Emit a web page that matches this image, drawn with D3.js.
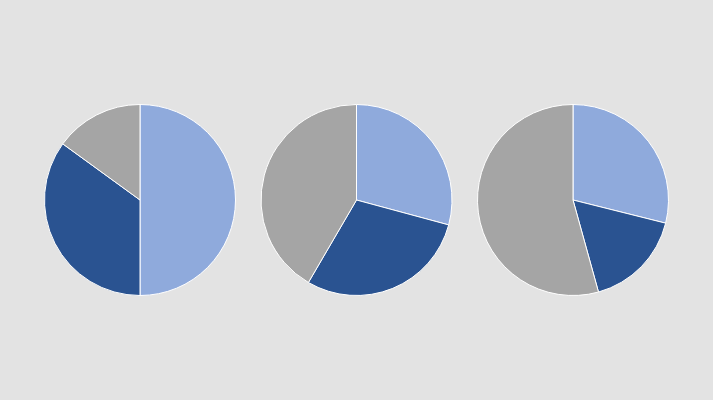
<!DOCTYPE html>
<html>
<head>
<meta charset="utf-8">
<script src="https://cdn.jsdelivr.net/npm/d3@7"></script>
<style>
html,body{margin:0;padding:0;background:#e3e3e3;}
svg{display:block;}
</style>
</head>
<body>
<svg id="chart" width="713" height="400"></svg>
<script>
const categories = ["A", "B", "C"];
const pie1 = [50, 35, 15];
const pie2 = [29.2, 29.2, 41.6];
const pie3 = [28.9, 16.8, 54.3];
const colors = ["#8faadc", "#2a5391", "#a5a5a5"];

const svg = d3.select("#chart");
svg.append("rect").attr("width", 713).attr("height", 400).attr("fill", "#e3e3e3");

const pies = [pie1, pie2, pie3];
const centers = d3.scalePoint().domain([0, 1, 2]).range([140, 573]);
const radius = 95.5;
const pie = d3.pie().sort(null).value(d => d);
const arc = d3.arc().innerRadius(0).outerRadius(radius);
const color = d3.scaleOrdinal().domain(categories).range(colors);

pies.forEach((vals, i) => {
  const g = svg.append("g").attr("transform", `translate(${centers(i)},200)`);
  g.selectAll("path")
    .data(pie(vals))
    .enter().append("path")
    .attr("d", arc)
    .attr("fill", (d, j) => color(categories[j]))
    .attr("stroke", "#ffffff")
    .attr("stroke-width", 1);
});
</script>
</body>
</html>
